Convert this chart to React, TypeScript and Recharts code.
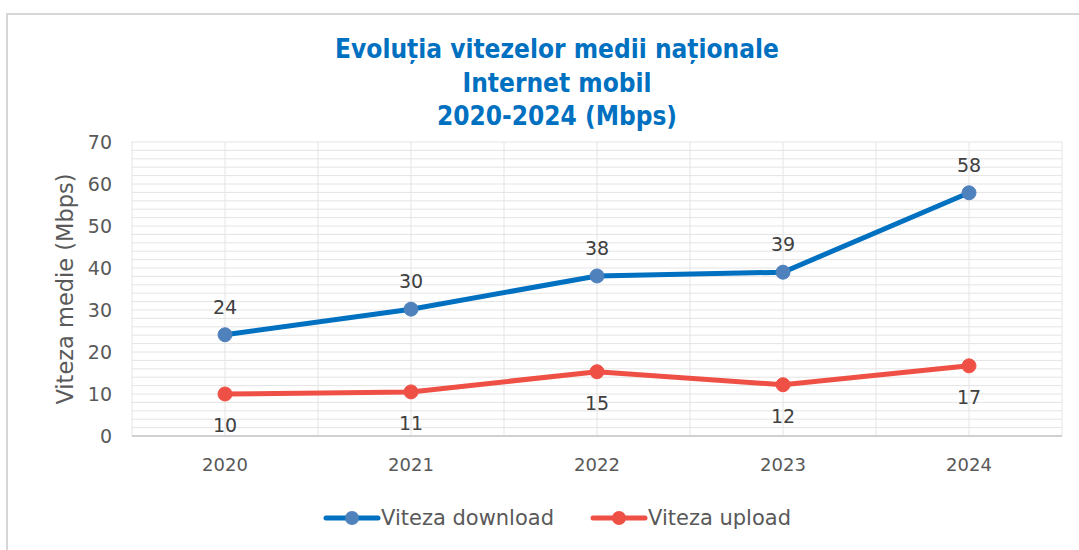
import React from 'react';
import { LineChart, Line, XAxis, YAxis, CartesianGrid, LabelList } from 'recharts';

const years = ['2020', '2021', '2022', '2023', '2024'];
const downloadSpeeds = [24.1, 30.2, 38.1, 39.0, 57.9];
const uploadSpeeds = [10.0, 10.5, 15.3, 12.2, 16.7];
const yTicks = [0, 10, 20, 30, 40, 50, 60, 70];
const titleLines = ['Evoluția vitezelor medii naționale', 'Internet mobil', '2020-2024 (Mbps)'];

const series = [
  { key: 'download', name: 'Viteza download', line: '#0070C0', dot: '#4F81BD', labelPos: 'top' as const, labelOffset: 21 },
  { key: 'upload', name: 'Viteza upload', line: '#EF5046', dot: '#EF5046', labelPos: 'bottom' as const, labelOffset: 25 },
];

const data = years.map((year, i) => ({
  year,
  download: downloadSpeeds[i],
  upload: uploadSpeeds[i],
}));

const FONT = '"DejaVu Sans", Verdana, sans-serif';

const App: React.FC = () => {
  return (
    <div style={{ position: 'fixed', left: 0, top: 0, width: 1079, height: 550, overflow: 'hidden', background: '#fff' }}>
      <div
        style={{
          position: 'absolute',
          left: 6,
          top: 13,
          width: 1100,
          height: 600,
          border: '2px solid #d6d6d6',
          boxSizing: 'border-box',
        }}
      />
      <div
        style={{
          position: 'absolute',
          top: 33,
          left: 0,
          width: 1114,
          textAlign: 'center',
          color: '#0070C0',
          fontFamily: '"DejaVu Sans Condensed", "DejaVu Sans", sans-serif',
          fontWeight: 'bold',
          fontSize: 26,
          lineHeight: '33.5px',
        }}
      >
        {titleLines.map((t) => (
          <div key={t}>{t}</div>
        ))}
      </div>
      <div style={{ position: 'absolute', left: 0, top: 0 }}>
        <LineChart
          width={1079}
          height={550}
          data={data}
          margin={{ top: 142, right: 17, bottom: 84, left: 0 }}
        >
          <CartesianGrid
            stroke="#e4e4e4"
            strokeWidth={1}
            verticalCoordinatesGenerator={({ offset }: any) =>
              Array.from({ length: 11 }, (_, i) => offset.left + (i * offset.width) / 10)
            }
            horizontalCoordinatesGenerator={({ offset }: any) =>
              Array.from({ length: 36 }, (_, i) => offset.top + (i * offset.height) / 35)
            }
          />
          <XAxis
            dataKey="year"
            scale="band"
            tickLine={false}
            tickSize={0}
            tickMargin={22}
            height={30}
            axisLine={{ stroke: '#d0d0d0', strokeWidth: 2 }}
            tick={{ fill: '#595959', fontSize: 18, fontFamily: FONT }}
          />
          <YAxis
            width={132}
            domain={[0, 70]}
            ticks={yTicks}
            tickLine={false}
            axisLine={false}
            tickSize={0}
            tickMargin={20}
            tick={{ fill: '#595959', fontSize: 19, fontFamily: FONT }}
            label={{
              value: 'Viteza medie (Mbps)',
              angle: -90,
              position: 'insideLeft',
              offset: 65,
              style: { textAnchor: 'middle', fill: '#595959', fontSize: 22.5, fontFamily: FONT },
            }}
          />
          {series.map((s) => (
            <Line
              key={s.key}
              dataKey={s.key}
              name={s.name}
              stroke={s.line}
              strokeWidth={5}
              dot={{ r: 7, fill: s.dot, stroke: s.dot, strokeWidth: 1 }}
              activeDot={false}
              isAnimationActive={false}
            >
              <LabelList
                dataKey={s.key}
                position={s.labelPos}
                offset={s.labelOffset}
                formatter={(v: any) => Math.round(Number(v))}
                style={{ fill: '#404040', fontSize: 19, fontFamily: FONT }}
              />
            </Line>
          ))}
        </LineChart>
      </div>
      <div
        style={{
          position: 'absolute',
          top: 503,
          left: 0,
          width: 1114,
          display: 'flex',
          justifyContent: 'center',
          gap: 36,
          fontFamily: FONT,
          fontSize: 21,
          color: '#595959',
        }}
      >
        {series.map((s) => (
          <div key={s.key} style={{ display: 'flex', alignItems: 'center' }}>
            <svg width={58} height={30}>
              <line x1={3} y1={15} x2={55} y2={15} stroke={s.line} strokeWidth={5} strokeLinecap="round" />
              <circle cx={29} cy={15} r={7} fill={s.dot} />
            </svg>
            <span>{s.name}</span>
          </div>
        ))}
      </div>
    </div>
  );
};

export default App;
